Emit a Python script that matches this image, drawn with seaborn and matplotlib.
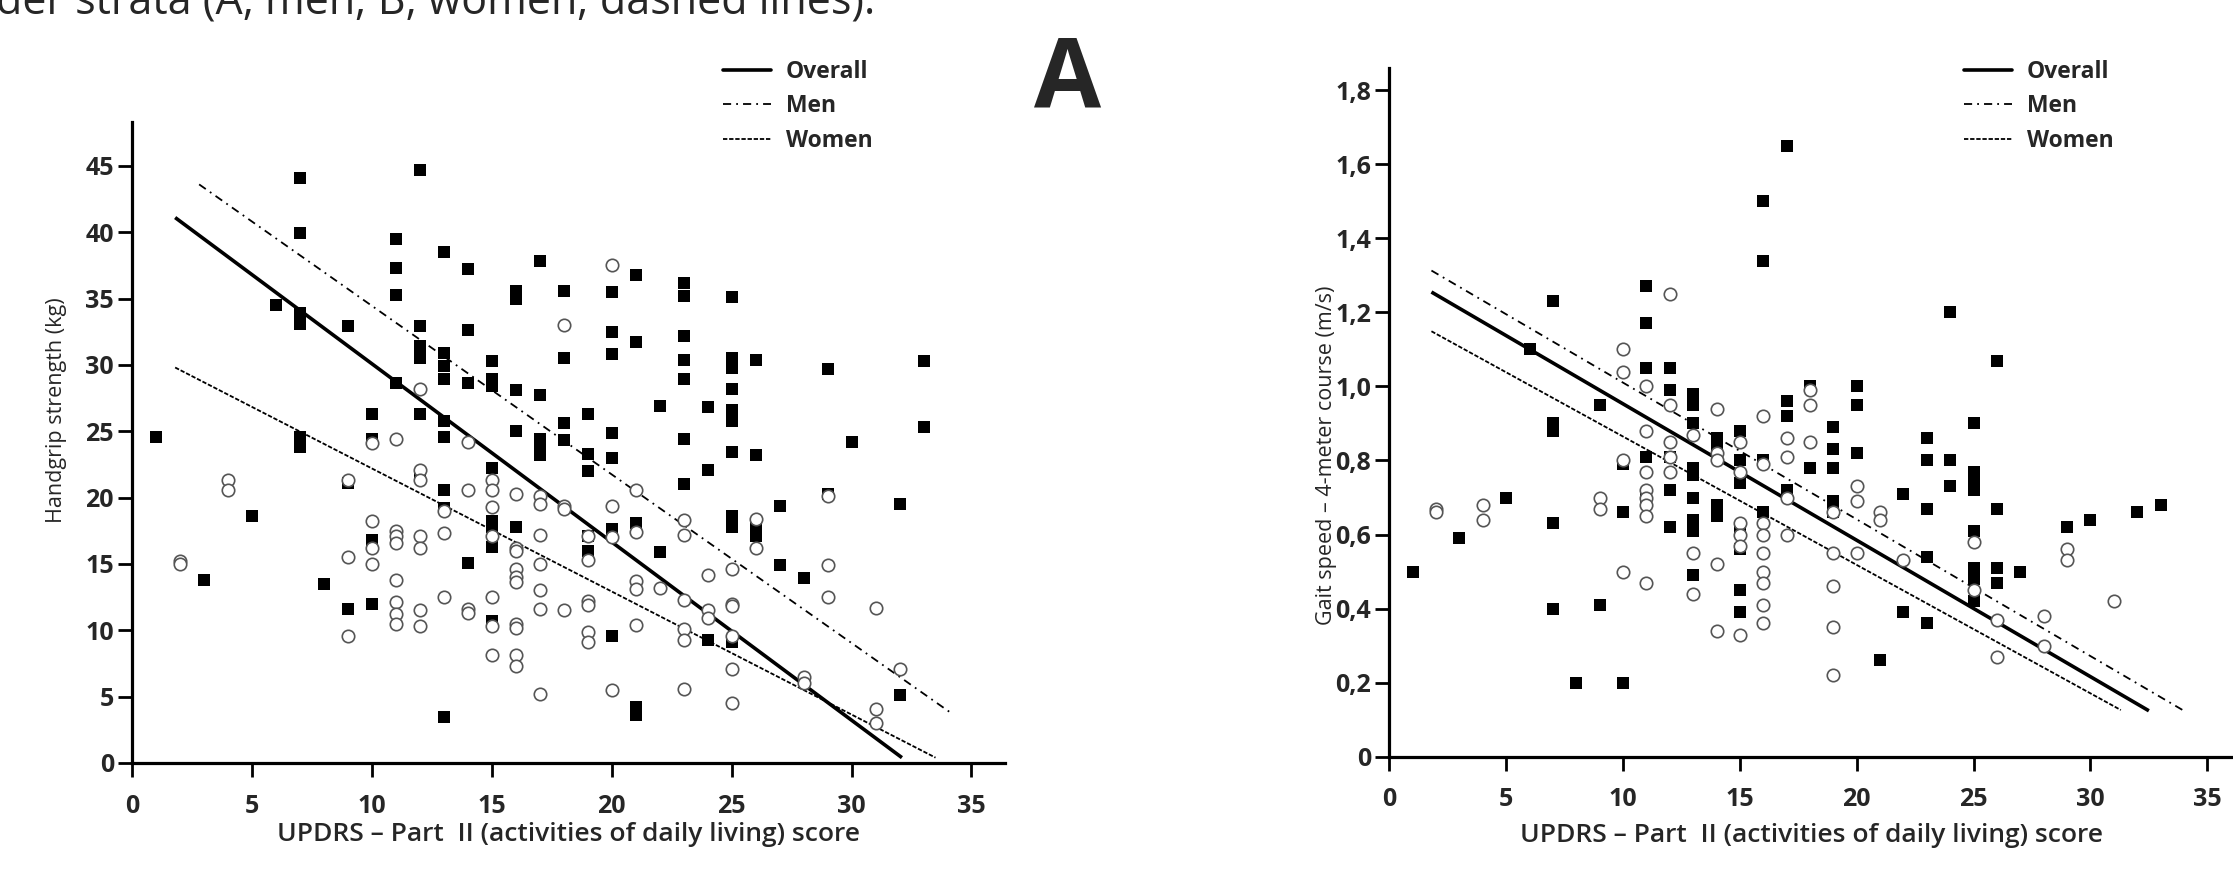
import matplotlib
matplotlib.use("Agg")
import matplotlib.pyplot as plt
import seaborn as sns
from matplotlib.lines import Line2D

sns.set_style("ticks")
plt.rcParams['font.family'] = ['Open Sans', 'DejaVu Sans']

# ---- panel A: handgrip strength ----
hg_men_x = [1, 3, 5, 6,
            7, 7, 7, 7, 7, 7,
            8,
            9, 9, 9,
            10, 10, 10, 10,
            11, 11, 11, 11, 11,
            12, 12, 12, 12, 12, 12,
            13, 13, 13, 13, 13, 13, 13, 13, 13,
            14, 14, 14, 14,
            15, 15, 15, 15, 15, 15, 15, 15,
            16, 16, 16, 16, 16,
            17, 17, 17, 17, 17,
            18, 18, 18, 18,
            19, 19, 19, 19, 19,
            20, 20, 20, 20, 20, 20, 20,
            21, 21, 21, 21, 21,
            22, 22,
            23, 23, 23, 23, 23, 23, 23,
            24, 24, 24,
            25, 25, 25, 25, 25, 25, 25, 25, 25, 25,
            26, 26, 26, 26,
            27, 27,
            28,
            29, 29,
            30,
            32, 32,
            33, 33]
hg_men_y = [24.6, 13.8, 18.6, 34.5,
            44.1, 39.9, 33.9, 33.1, 24.6, 23.8,
            13.5,
            32.9, 21.1, 11.6,
            26.3, 24.4, 16.8, 12.0,
            39.5, 37.3, 35.3, 28.6, 17.0,
            44.7, 32.9, 31.4, 30.5, 26.3, 21.6,
            38.5, 30.9, 29.9, 28.9, 25.8, 24.6, 20.6, 19.2, 3.5,
            37.2, 32.6, 28.6, 15.1,
            30.3, 28.9, 28.4, 22.2, 18.2, 17.8, 16.3, 10.7,
            35.6, 35.0, 28.1, 25.0, 17.8,
            37.8, 27.7, 24.4, 23.8, 23.2,
            35.6, 30.5, 25.6, 24.3,
            26.3, 23.3, 22.0, 17.1, 16.0,
            35.5, 32.5, 30.8, 24.9, 23.0, 17.6, 9.6,
            36.8, 31.7, 18.1, 4.2, 3.6,
            26.9, 15.9,
            36.2, 35.2, 32.2, 30.4, 28.9, 24.4, 21.0,
            26.8, 22.1, 9.3,
            35.1, 30.5, 29.8, 28.2, 26.6, 25.8, 23.4, 18.6, 17.8, 9.1,
            30.4, 23.2, 18.0, 17.1,
            19.4, 14.9,
            13.9,
            29.7, 20.3,
            24.2,
            19.5, 5.1,
            30.3, 25.3]

hg_women_x = [2, 2,
              4, 4,
              9, 9, 9,
              10, 10, 10, 10,
              11, 11, 11, 11, 11, 11, 11, 11,
              12, 12, 12, 12, 12, 12, 12,
              13, 13, 13,
              14, 14, 14, 14,
              15, 15, 15, 15, 15, 15, 15,
              16, 16, 16, 16, 16, 16, 16, 16, 16, 16,
              17, 17, 17, 17, 17, 17, 17,
              18, 18, 18, 18,
              19, 19, 19, 19, 19, 19,
              20, 20, 20, 20,
              21, 21, 21, 21, 21,
              22,
              23, 23, 23, 23, 23, 23,
              24, 24, 24,
              25, 25, 25, 25, 25, 25,
              26, 26,
              28, 28,
              29, 29, 29,
              31, 31, 31,
              32]
hg_women_y = [15.2, 15.0,
              21.3, 20.6,
              21.3, 15.5, 9.6,
              24.1, 18.2, 16.2, 15.0,
              24.4, 17.5, 17.1, 16.6, 13.8, 12.1, 11.2, 10.5,
              28.2, 22.1, 21.3, 17.1, 16.2, 11.5, 10.3,
              19.0, 17.3, 12.5,
              24.2, 20.6, 11.6, 11.3,
              21.3, 20.6, 19.3, 17.1, 12.5, 10.3, 8.1,
              20.3, 16.2, 16.0, 14.6, 14.0, 13.6, 10.5, 10.2, 8.1, 7.3,
              20.1, 19.5, 17.2, 15.0, 13.0, 11.6, 5.2,
              33.0, 19.4, 19.1, 11.5,
              17.1, 15.3, 12.2, 11.9, 9.9, 9.1,
              37.5, 19.4, 17.0, 5.5,
              20.6, 17.4, 13.7, 13.1, 10.4,
              13.2,
              18.3, 17.2, 12.3, 10.1, 9.3, 5.6,
              14.2, 11.5, 10.9,
              14.6, 12.0, 11.8, 9.6, 7.1, 4.5,
              18.4, 16.2,
              6.5, 6.0,
              20.1, 14.9, 12.5,
              11.7, 4.1, 3.0,
              7.1]

# fitted lines (start / end)
hg_overall_x = [1.8, 32.1]
hg_overall_y = [41.1, 0.4]
hg_menfit_x = [2.8, 34.2]
hg_menfit_y = [43.6, 3.7]
hg_womenfit_x = [1.8, 33.5]
hg_womenfit_y = [29.8, 0.4]

hg_yticks = [0, 5, 10, 15, 20, 25, 30, 35, 40, 45]

# ---- panel B: gait speed ----
gs_men_x = [1, 3, 5, 6,
            7, 7, 7, 7, 7,
            8,
            9, 9,
            10, 10, 10,
            11, 11, 11, 11, 11,
            12, 12, 12, 12, 12,
            13, 13, 13, 13, 13, 13, 13, 13, 13,
            14, 14, 14, 14,
            15, 15, 15, 15, 15, 15, 15,
            16, 16, 16, 16,
            17, 17, 17, 17,
            18, 18,
            19, 19, 19, 19, 19,
            20, 20, 20,
            21,
            22, 22,
            23, 23, 23, 23, 23,
            24, 24, 24,
            25, 25, 25, 25, 25, 25, 25, 25,
            26, 26, 26, 26,
            27, 29, 30, 32, 33]
gs_men_y = [0.50, 0.59, 0.70, 1.10,
            1.23, 0.90, 0.88, 0.63, 0.40,
            0.20,
            0.95, 0.41,
            0.79, 0.66, 0.20,
            1.27, 1.17, 1.05, 0.81, 0.70,
            1.05, 0.99, 0.81, 0.72, 0.62,
            0.98, 0.95, 0.90, 0.78, 0.76, 0.70, 0.64, 0.61, 0.49,
            0.86, 0.84, 0.68, 0.65,
            0.88, 0.80, 0.74, 0.61, 0.56, 0.45, 0.39,
            1.50, 1.34, 0.80, 0.66,
            1.65, 0.96, 0.92, 0.72,
            1.00, 0.78,
            0.89, 0.83, 0.78, 0.69, 0.66,
            1.00, 0.95, 0.82,
            0.26,
            0.71, 0.39,
            0.86, 0.80, 0.67, 0.54, 0.36,
            1.20, 0.80, 0.73,
            0.90, 0.77, 0.745, 0.72, 0.61, 0.51, 0.48, 0.42,
            1.07, 0.67, 0.51, 0.47,
            0.50, 0.62, 0.64, 0.66, 0.68]

gs_women_x = [2, 2,
              4, 4,
              9, 9,
              10, 10, 10, 10,
              11, 11, 11, 11, 11, 11, 11, 11,
              12, 12, 12, 12, 12,
              13, 13, 13,
              14, 14, 14, 14, 14,
              15, 15, 15, 15, 15, 15,
              16, 16, 16, 16, 16, 16, 16, 16, 16,
              17, 17, 17, 17,
              18, 18, 18,
              19, 19, 19, 19, 19,
              20, 20, 20,
              21, 21,
              22,
              25, 25,
              26, 26,
              28, 28,
              29, 29,
              31]
gs_women_y = [0.67, 0.66,
              0.68, 0.64,
              0.70, 0.67,
              1.10, 1.04, 0.80, 0.50,
              1.00, 0.88, 0.77, 0.72, 0.70, 0.68, 0.65, 0.47,
              1.25, 0.95, 0.85, 0.81, 0.77,
              0.87, 0.55, 0.44,
              0.94, 0.82, 0.80, 0.52, 0.34,
              0.85, 0.77, 0.63, 0.60, 0.57, 0.33,
              0.92, 0.79, 0.63, 0.60, 0.55, 0.50, 0.47, 0.41, 0.36,
              0.86, 0.81, 0.70, 0.60,
              0.99, 0.95, 0.85,
              0.66, 0.55, 0.46, 0.35, 0.22,
              0.73, 0.69, 0.55,
              0.66, 0.64,
              0.53,
              0.58, 0.45,
              0.37, 0.27,
              0.38, 0.30,
              0.56, 0.53,
              0.42]

gs_overall_x = [1.8, 32.5]
gs_overall_y = [1.255, 0.124]
gs_menfit_x = [1.8, 34.0]
gs_menfit_y = [1.313, 0.124]
gs_womenfit_x = [1.8, 31.3]
gs_womenfit_y = [1.149, 0.126]

gs_yticks = [0, 0.2, 0.4, 0.6, 0.8, 1.0, 1.2, 1.4, 1.6, 1.8]
gs_yticklabels = ["0", "0,2", "0,4", "0,6", "0,8", "1,0", "1,2", "1,4", "1,6", "1,8"]

xticks = [0, 5, 10, 15, 20, 25, 30, 35]
xlabel = "UPDRS \u2013 Part  II (activities of daily living) score"
legend_labels = ["Overall", "Men", "Women"]

assert len(hg_men_x) == len(hg_men_y)
assert len(hg_women_x) == len(hg_women_y)
assert len(gs_men_x) == len(gs_men_y)
assert len(gs_women_x) == len(gs_women_y)

MEN_LS = (0, (4.5, 2.8, 1, 2.8))
WOMEN_LS = (0, (2.4, 1.0))

fig = plt.figure(figsize=(22.33, 8.81), dpi=100)
ax1 = fig.add_axes([0.0591, 0.134, 0.391, 0.7275])
ax2 = fig.add_axes([0.6222, 0.1411, 0.3778, 0.7817])


def draw_panel(ax, mx, my, wx, wy, fits, xmax, ymax, yticks, yticklabels, ylabel,
               ylab_pos, xlab_y, leg_anchor):
    (ox, oy), (menx, meny), (wox, woy) = fits
    ax.plot(ox, oy, color="black", lw=2.6, solid_capstyle="butt", zorder=2)
    ax.plot(menx, meny, color="black", lw=1.3, ls=MEN_LS, zorder=2)
    ax.plot(wox, woy, color="black", lw=1.3, ls=WOMEN_LS, zorder=2)
    sns.scatterplot(x=mx, y=my, ax=ax, marker="s", color="black", s=85,
                    linewidth=0, zorder=3)
    sns.scatterplot(x=wx, y=wy, ax=ax, marker="o", color="white", edgecolor="#555555",
                    s=80, linewidth=1.2, zorder=4)

    ax.set_xlim(0, xmax)
    ax.set_ylim(0, ymax)
    ax.set_xticks(xticks)
    ax.set_xticklabels([str(t) for t in xticks])
    ax.set_yticks(yticks)
    ax.set_yticklabels(yticklabels)
    sns.despine(ax=ax)
    for sp in ["left", "bottom"]:
        ax.spines[sp].set_linewidth(2.3)
        ax.spines[sp].set_color("black")
    ax.tick_params(axis="both", direction="out", length=10, width=2.0, color="black",
                   labelsize=18)
    ax.tick_params(axis="x", pad=12)
    ax.tick_params(axis="y", pad=3)
    for lab in ax.get_xticklabels() + ax.get_yticklabels():
        lab.set_fontweight("bold")

    ax.set_ylabel(ylabel, fontsize=15.5)
    ax.yaxis.set_label_coords(*ylab_pos)
    ax.set_xlabel(xlabel, fontsize=19, fontweight="semibold")
    ax.xaxis.label.set_va("center")
    ax.xaxis.set_label_coords(0.5, xlab_y)

    handles = [Line2D([], [], color="black", lw=2.6),
               Line2D([], [], color="black", lw=1.3, ls=MEN_LS),
               Line2D([], [], color="black", lw=1.3, ls=WOMEN_LS)]
    ax.legend(handles, legend_labels, loc="upper left", bbox_to_anchor=leg_anchor,
              bbox_transform=fig.transFigure, frameon=False, borderpad=0,
              borderaxespad=0, handlelength=2.1, handletextpad=0.65,
              labelspacing=0.45, prop=dict(weight="bold", size=16.5))


draw_panel(ax1, hg_men_x, hg_men_y, hg_women_x, hg_women_y,
           [(hg_overall_x, hg_overall_y), (hg_menfit_x, hg_menfit_y),
            (hg_womenfit_x, hg_womenfit_y)],
           36.4, 48.3, hg_yticks, [str(t) for t in hg_yticks],
           "Handgrip strength (kg)", (-0.074, 0.55), -0.112, (0.3238, 0.932))

draw_panel(ax2, gs_men_x, gs_men_y, gs_women_x, gs_women_y,
           [(gs_overall_x, gs_overall_y), (gs_menfit_x, gs_menfit_y),
            (gs_womenfit_x, gs_womenfit_y)],
           36.1, 1.86, gs_yticks, gs_yticklabels,
           "Gait speed \u2013 4-meter course (m/s)", (-0.062, 0.437), -0.114,
           (0.8795, 0.932))

fig.text(0.478, 0.8785, "A", fontsize=70, fontweight="bold", ha="center", va="baseline")
fig.text(-0.002, 0.985, "der strata (A, men; B, women; dashed lines).", fontsize=31,
         ha="left", va="baseline")

fig.savefig("out.png", dpi=100)
